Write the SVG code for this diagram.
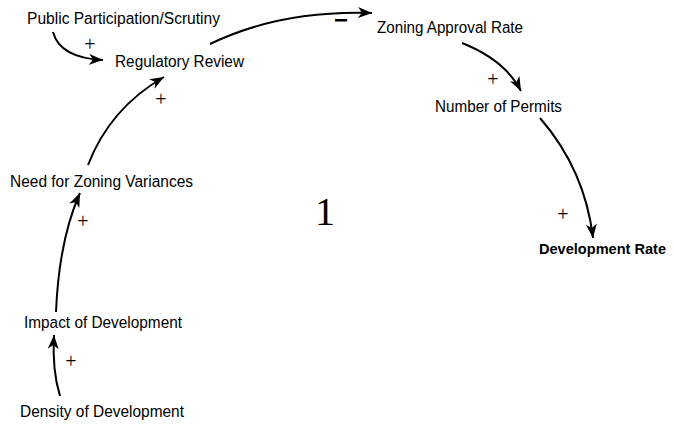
<svg xmlns="http://www.w3.org/2000/svg" width="674" height="425" viewBox="0 0 674 425">
  <style>
    .lbl { font-family: "Liberation Sans", Arial, sans-serif; font-size: 16px; fill: #000; }
    .bold { font-weight: bold; font-size: 15.5px; }
    .sign { font-family: "Liberation Serif", "Times New Roman", serif; font-size: 20px; fill: #000; text-anchor: middle; }
    .minus { font-family: "Liberation Sans", Arial, sans-serif; font-size: 24px; font-weight: bold; fill: #000; text-anchor: middle; }
    .link { fill: none; stroke: #000; stroke-width: 2; marker-end: url(#arrow); }
  </style>
  <defs>
    <marker id="arrow" markerUnits="userSpaceOnUse" markerWidth="15" markerHeight="11" refX="14" refY="5.5" orient="auto">
      <path d="M0,0 L14,5.5 L0,11 L4,5.5 z" fill="#000"/>
    </marker>
  </defs>
  <rect width="674" height="425" fill="#fff"/>

  <g id="connectors">
    <path class="link" d="M53,32 Q60,58 103,60"/>
    <path class="link" d="M210,44 Q280,10 372,13"/>
    <path class="link" d="M462,43 Q505,60 521,91"/>
    <path class="link" d="M540,118 Q585,170 593,238"/>
    <path class="link" d="M88,165 Q110,108 164,77"/>
    <path class="link" d="M56,312 Q59,240 80,193"/>
    <path class="link" d="M60,396 Q52,370 54,335"/>
  </g>

  <g id="signs">
    <text class="sign" x="90" y="51">+</text>
    <text class="sign" x="161" y="106">+</text>
    <text class="minus" x="341" y="28">−</text>
    <text class="sign" x="493" y="86">+</text>
    <text class="sign" x="563" y="221">+</text>
    <text class="sign" x="83" y="228">+</text>
    <text class="sign" x="71" y="368">+</text>
  </g>

  <g id="public-participation"><text class="lbl" x="27" y="24" textLength="193" lengthAdjust="spacingAndGlyphs">Public Participation/Scrutiny</text></g>
  <g id="regulatory-review"><text class="lbl" x="115" y="67" textLength="129" lengthAdjust="spacingAndGlyphs">Regulatory Review</text></g>
  <g id="zoning-approval-rate"><text class="lbl" x="377" y="33" textLength="146" lengthAdjust="spacingAndGlyphs">Zoning Approval Rate</text></g>
  <g id="number-of-permits"><text class="lbl" x="435" y="112" textLength="127" lengthAdjust="spacingAndGlyphs">Number of Permits</text></g>
  <g id="development-rate"><text class="lbl bold" x="539" y="254" textLength="127" lengthAdjust="spacingAndGlyphs">Development Rate</text></g>
  <g id="need-for-zoning-variances"><text class="lbl" x="10" y="187" textLength="183" lengthAdjust="spacingAndGlyphs">Need for Zoning Variances</text></g>
  <g id="impact-of-development"><text class="lbl" x="24" y="328" textLength="158" lengthAdjust="spacingAndGlyphs">Impact of Development</text></g>
  <g id="density-of-development"><text class="lbl" x="20" y="417" textLength="164" lengthAdjust="spacingAndGlyphs">Density of Development</text></g>

  <g id="loop-label"><text x="315" y="225" font-family="Liberation Serif, 'Times New Roman', serif" font-size="40" fill="#000">1</text></g>
</svg>
